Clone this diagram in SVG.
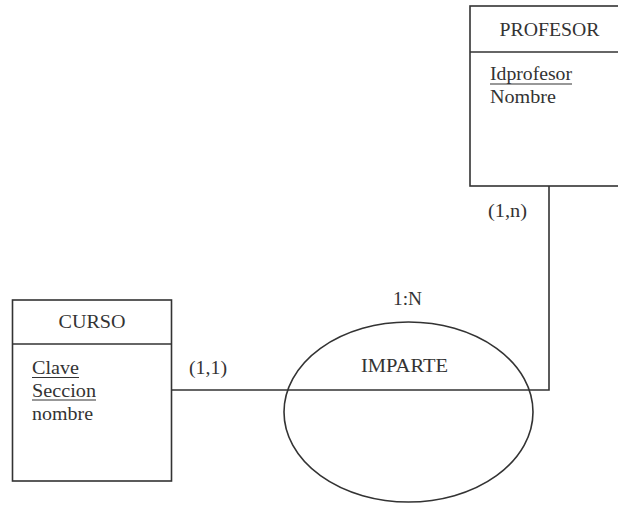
<svg xmlns="http://www.w3.org/2000/svg" width="618" height="506" viewBox="0 0 618 506">
<style>
.s{fill:none;stroke:#333;stroke-width:1.6}
.t{font-family:'Liberation Serif','DejaVu Serif',serif;font-size:19px;fill:#333}
.m{text-anchor:middle}
.u{stroke:#333;stroke-width:1.2}
</style>
<rect width="618" height="506" fill="#fff"/>
<g id="connectors">
<polyline class="s" points="171,390 549,390 549,186"/>
<text class="t" x="189" y="374" textLength="38" lengthAdjust="spacingAndGlyphs">(1,1)</text>
<text class="t" x="488" y="217" textLength="39" lengthAdjust="spacingAndGlyphs">(1,n)</text>
</g>
<g id="profesor">
<rect class="s" x="470" y="6" width="160" height="180"/>
<line class="s" x1="470" y1="52" x2="630" y2="52"/>
<text class="t m" x="549.5" y="36" textLength="100" lengthAdjust="spacingAndGlyphs">PROFESOR</text>
<text class="t" x="490" y="80" textLength="82" lengthAdjust="spacingAndGlyphs">Idprofesor</text>
<line class="u" x1="490" y1="84" x2="572" y2="84"/>
<text class="t" x="490" y="103" textLength="66" lengthAdjust="spacingAndGlyphs">Nombre</text>
</g>
<g id="curso">
<rect class="s" x="12.5" y="300" width="159" height="181"/>
<line class="s" x1="12.5" y1="344" x2="171.5" y2="344"/>
<text class="t m" x="92" y="328" textLength="67" lengthAdjust="spacingAndGlyphs">CURSO</text>
<text class="t" x="32" y="374" textLength="47" lengthAdjust="spacingAndGlyphs">Clave</text>
<line class="u" x1="32" y1="377.5" x2="79" y2="377.5"/>
<text class="t" x="32" y="397" textLength="64" lengthAdjust="spacingAndGlyphs">Seccion</text>
<line class="u" x1="32" y1="400" x2="96" y2="400"/>
<text class="t" x="32" y="420" textLength="61" lengthAdjust="spacingAndGlyphs">nombre</text>
</g>
<g id="imparte">
<ellipse class="s" cx="408.5" cy="412" rx="124.5" ry="90"/>
<text class="t m" x="407.5" y="305" textLength="29" lengthAdjust="spacingAndGlyphs">1:N</text>
<text class="t m" x="404.5" y="372" textLength="87" lengthAdjust="spacingAndGlyphs">IMPARTE</text>
</g>
</svg>
